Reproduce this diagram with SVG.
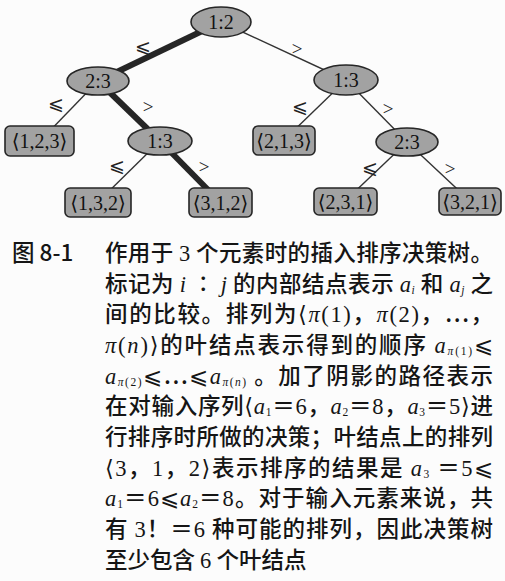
<svg xmlns="http://www.w3.org/2000/svg" width="505" height="581" viewBox="0 0 505 581">
<style>
.bg{fill:#fcfcfc}
.inner{fill:#a2a2a2;stroke:#262626;stroke-width:1.6}
.leaf{fill:#a2a2a2;stroke:#262626;stroke-width:1.6}
.nl{font-family:"Liberation Serif","DejaVu Serif",serif;font-size:20px;fill:#111;text-anchor:middle;dominant-baseline:central}
.thin{stroke:#333;stroke-width:1.4;fill:none}
.thick{stroke:#262626;stroke-width:6;fill:none;stroke-linecap:butt}
.el{font-family:"Liberation Serif","DejaVu Serif",serif;font-size:19px;fill:#222;text-anchor:middle;dominant-baseline:central}
.cap{font-family:"Noto Sans CJK SC",sans-serif;font-size:22.5px;font-weight:500;fill:#151515}
.m{font-family:"Liberation Serif","DejaVu Serif",serif;font-weight:400}
.mi{font-family:"Liberation Serif","DejaVu Serif",serif;font-style:italic;font-weight:400}
.sub{font-family:"Liberation Serif","DejaVu Serif",serif;font-size:11.5px;font-weight:400}
.subi{font-family:"Liberation Serif","DejaVu Serif",serif;font-size:11.5px;font-weight:400;font-style:italic}
</style>
<rect class="bg" x="0" y="0" width="505" height="581"/>
<g id="connectors">
<line class="thin" x1="221" y1="22" x2="346" y2="80"/>
<line class="thin" x1="98" y1="81" x2="40" y2="141"/>
<line class="thin" x1="160" y1="141" x2="98" y2="202"/>
<line class="thin" x1="346" y1="80" x2="284" y2="140"/>
<line class="thin" x1="346" y1="80" x2="407" y2="142"/>
<line class="thin" x1="407" y1="142" x2="345" y2="201"/>
<line class="thin" x1="407" y1="142" x2="470" y2="201"/>
<line class="thick" x1="221" y1="22" x2="98" y2="81"/>
<line class="thick" x1="98" y1="81" x2="160" y2="141"/>
<line class="thick" x1="160" y1="141" x2="220" y2="202"/>
<text class="el" x="143" y="46">⩽</text>
<text class="el" x="297" y="48">&gt;</text>
<text class="el" x="56" y="103">⩽</text>
<text class="el" x="148" y="106">&gt;</text>
<text class="el" x="117" y="165">⩽</text>
<text class="el" x="204" y="166">&gt;</text>
<text class="el" x="300" y="106">⩽</text>
<text class="el" x="388" y="108">&gt;</text>
<text class="el" x="370" y="167">⩽</text>
<text class="el" x="450" y="168">&gt;</text>
</g>
<g id="n12"><ellipse class="inner" cx="221" cy="22" rx="30" ry="15"/><text class="nl" x="221" y="22">1:2</text></g>
<g id="n23a"><ellipse class="inner" cx="98" cy="81" rx="31" ry="14"/><text class="nl" x="98" y="81">2:3</text></g>
<g id="n13a"><ellipse class="inner" cx="160" cy="141" rx="32" ry="14"/><text class="nl" x="160" y="141">1:3</text></g>
<g id="n13b"><ellipse class="inner" cx="346" cy="80" rx="32" ry="15"/><text class="nl" x="346" y="80">1:3</text></g>
<g id="n23b"><ellipse class="inner" cx="407" cy="142" rx="31" ry="14"/><text class="nl" x="407" y="142">2:3</text></g>
<g id="l123"><rect class="leaf" x="5" y="126" width="69" height="30" rx="5"/><text class="nl" x="39.5" y="141">⟨1,2,3⟩</text></g>
<g id="l132"><rect class="leaf" x="65" y="188" width="66" height="29" rx="5"/><text class="nl" x="98" y="202.5">⟨1,3,2⟩</text></g>
<g id="l312"><rect class="leaf" x="189" y="188" width="63" height="29" rx="5"/><text class="nl" x="220.5" y="202.5">⟨3,1,2⟩</text></g>
<g id="l213"><rect class="leaf" x="253" y="126" width="62" height="29" rx="5"/><text class="nl" x="284" y="140.5">⟨2,1,3⟩</text></g>
<g id="l231"><rect class="leaf" x="314" y="188" width="63" height="27" rx="5"/><text class="nl" x="345.5" y="201.5">⟨2,3,1⟩</text></g>
<g id="l321"><rect class="leaf" x="439" y="188" width="62" height="27" rx="5"/><text class="nl" x="470" y="201.5">⟨3,2,1⟩</text></g>
<g id="caption">
<text class="cap" x="12" y="261">图 8-1</text>
<text class="cap" x="105" y="261" textLength="388" lengthAdjust="spacing">作用于 <tspan class="m">3</tspan> 个元素时的插入排序决策树。</text>
<text class="cap" x="105" y="292" textLength="388" lengthAdjust="spacing">标记为 <tspan class="mi">i</tspan> ∶ <tspan class="mi">j</tspan> 的内部结点表示 <tspan class="mi">a</tspan><tspan class="subi" dy="2">i</tspan><tspan dy="-2"> 和 </tspan><tspan class="mi">a</tspan><tspan class="subi" dy="2">j</tspan><tspan dy="-2"> 之</tspan></text>
<text class="cap" x="105" y="322" textLength="388" lengthAdjust="spacing">间的比较。排列为<tspan class="m">⟨</tspan><tspan class="mi">π</tspan><tspan class="m">(1)</tspan>，<tspan class="mi">π</tspan><tspan class="m">(2)</tspan>，…，</text>
<text class="cap" x="105" y="353" textLength="388" lengthAdjust="spacing"><tspan class="mi">π</tspan><tspan class="m">(</tspan><tspan class="mi">n</tspan><tspan class="m">)⟩</tspan>的叶结点表示得到的顺序 <tspan class="mi">a</tspan><tspan class="subi" dy="2">π</tspan><tspan class="sub">(1)</tspan><tspan dy="-2">⩽</tspan></text>
<text class="cap" x="105" y="384" textLength="388" lengthAdjust="spacing"><tspan class="mi">a</tspan><tspan class="subi" dy="2">π</tspan><tspan class="sub">(2)</tspan><tspan dy="-2">⩽…⩽</tspan><tspan class="mi">a</tspan><tspan class="subi" dy="2">π</tspan><tspan class="sub">(</tspan><tspan class="subi">n</tspan><tspan class="sub">)</tspan><tspan dy="-2"> 。加了阴影的路径表示</tspan></text>
<text class="cap" x="105" y="414" textLength="388" lengthAdjust="spacing">在对输入序列<tspan class="m">⟨</tspan><tspan class="mi">a</tspan><tspan class="sub" dy="2">1</tspan><tspan dy="-2">＝</tspan><tspan class="m">6</tspan>，<tspan class="mi">a</tspan><tspan class="sub" dy="2">2</tspan><tspan dy="-2">＝</tspan><tspan class="m">8</tspan>，<tspan class="mi">a</tspan><tspan class="sub" dy="2">3</tspan><tspan dy="-2">＝</tspan><tspan class="m">5⟩</tspan>进</text>
<text class="cap" x="105" y="445" textLength="388" lengthAdjust="spacing">行排序时所做的决策；叶结点上的排列</text>
<text class="cap" x="105" y="476" textLength="388" lengthAdjust="spacing"><tspan class="m">⟨3</tspan>，<tspan class="m">1</tspan>，<tspan class="m">2⟩</tspan>表示排序的结果是 <tspan class="mi">a</tspan><tspan class="sub" dy="2">3</tspan><tspan dy="-2"> ＝</tspan><tspan class="m">5</tspan>⩽</text>
<text class="cap" x="105" y="506" textLength="388" lengthAdjust="spacing"><tspan class="mi">a</tspan><tspan class="sub" dy="2">1</tspan><tspan dy="-2">＝</tspan><tspan class="m">6</tspan>⩽<tspan class="mi">a</tspan><tspan class="sub" dy="2">2</tspan><tspan dy="-2">＝</tspan><tspan class="m">8</tspan>。对于输入元素来说，共</text>
<text class="cap" x="105" y="537" textLength="388" lengthAdjust="spacing">有 <tspan class="m">3</tspan>！＝<tspan class="m">6</tspan> 种可能的排列，因此决策树</text>
<text class="cap" x="105" y="568">至少包含 <tspan class="m">6</tspan> 个叶结点</text>
</g>
</svg>
